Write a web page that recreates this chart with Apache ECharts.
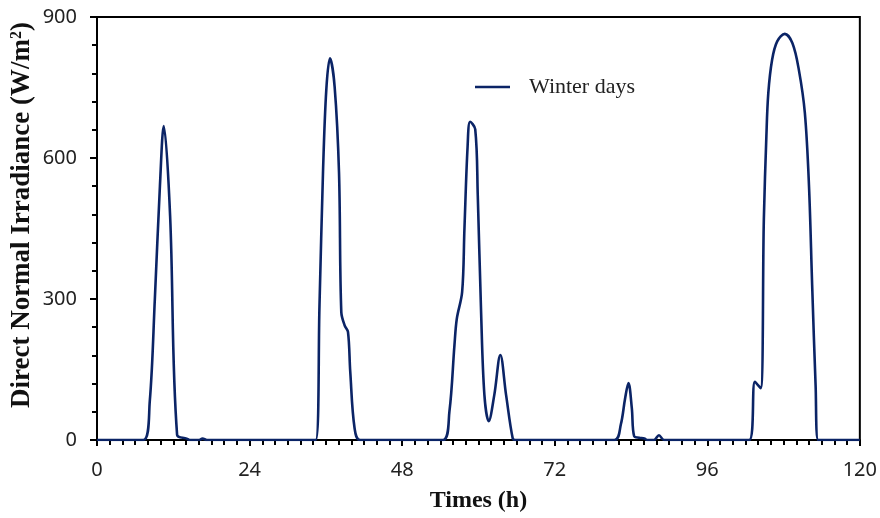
<!DOCTYPE html>
<html>
<head>
<meta charset="utf-8">
<script src="https://cdn.jsdelivr.net/npm/echarts@6/dist/echarts.min.js"></script>
<style>
  html, body { margin: 0; padding: 0; background: #fff; }
  #chart { width: 880px; height: 518px; }
</style>
</head>
<body>
<div id="chart"></div>
<script>
// hour, direct normal irradiance (W/m2)
const hours = [
  0, 7.3, 8.3, 9.1, 9.9, 10.5, 11.5, 12.6, 14.1, 14.6, 16.0, 16.6, 17.3,
  34.4, 35.0, 35.55, 36.07, 36.65, 37.38, 38.07, 38.43, 38.95, 39.48, 39.84, 40.52, 41.4,
  54.4, 55.44, 56.23, 56.6, 57.44, 57.8, 58.3, 58.7, 59.5, 59.9, 60.42, 60.94, 61.62, 62.5, 63.45, 64.35, 65.4, 65.8,
  81.4, 82.4, 83.08, 83.6, 84.13, 84.5, 85.3, 86.1, 86.6, 87.6, 88.4, 89.2,
  102.6, 103.5, 104.4, 104.9, 105.3, 105.6, 106.2, 107.0, 108.2, 109.4, 110.4, 111.35, 112.0, 112.5, 113.04, 113.45,
  120
]
const winterDni = [
  0, 0, 82, 300, 541, 668, 477, 11, 3, 0, 0, 3, 0,
  0, 287, 569, 745, 812, 752, 569, 272, 244, 230, 145, 25, 0,
  0, 61, 202, 258, 315, 449, 625, 677, 661, 519, 272, 96, 40, 96, 181, 96, 3, 0,
  0, 33, 89, 121, 68, 8, 5, 3, 0, 0, 10, 0,
  0, 124, 110, 470, 647, 738, 809, 848, 864, 844, 788, 696, 541, 329, 117, 0,
  0
]
const xTicks = [0, 24, 48, 72, 96, 120]
const yTicks = [0, 300, 600, 900]

const chart = echarts.init(document.getElementById('chart'))

const tickFont = { fontFamily: 'Noto Sans', fontSize: 20, color: '#222' }

chart.setOption({
  animation: false,
  grid: {
    left: 97, right: 19, top: 17, bottom: 76,
    show: true, borderColor: '#000', borderWidth: 2
  },
  legend: {
    left: 470, top: 71,
    icon: 'rect',
    itemWidth: 35, itemHeight: 2.5,
    textStyle: { fontFamily: 'Liberation Serif', fontSize: 22, color: '#222', padding: [0, 0, 0, 14] },
    data: ['Winter days']
  },
  xAxis: {
    type: 'value',
    min: xTicks[0], max: xTicks[xTicks.length - 1], interval: 24,
    name: 'Times (h)',
    nameLocation: 'middle', nameGap: 49,
    nameTextStyle: { fontFamily: 'Liberation Serif', fontWeight: 'bold', fontSize: 24, color: '#111' },
    axisLine: { lineStyle: { color: '#000', width: 2 } },
    axisTick: { show: true, length: 6, lineStyle: { color: '#000', width: 2 } },
    minorTick: { show: true, splitNumber: 12, length: 5, lineStyle: { color: '#000', width: 2 } },
    axisLabel: { ...tickFont, margin: 20 },
    splitLine: { show: false }
  },
  yAxis: {
    type: 'value',
    min: yTicks[0], max: yTicks[yTicks.length - 1], interval: 300,
    axisLine: { show: true, lineStyle: { color: '#000', width: 2 } },
    axisTick: { show: true, length: 7, lineStyle: { color: '#000', width: 2 } },
    minorTick: { show: true, splitNumber: 5, length: 5, lineStyle: { color: '#000', width: 2 } },
    axisLabel: { ...tickFont, margin: 20 },
    splitLine: { show: false }
  },
  graphic: [{
    type: 'text',
    x: 22, y: 215,
    rotation: Math.PI / 2,
    style: {
      text: 'Direct Normal Irradiance (W/m{sup|2})',
      fontFamily: 'Liberation Serif', fontWeight: 'bold', fontSize: 27, fill: '#111',
      align: 'center', verticalAlign: 'middle',
      rich: {
        sup: { fontFamily: 'Liberation Serif', fontWeight: 'bold', fontSize: 16, verticalAlign: 'top', padding: [0, 0, 10, 0] }
      }
    }
  }],
  series: [{
    name: 'Winter days',
    type: 'line',
    data: hours.map((h, i) => [h, winterDni[i]]),
    symbol: 'none',
    smooth: 0.35,
    lineStyle: { color: '#0b2466', width: 2.6 },
    itemStyle: { color: '#0b2466' }
  }]
})
</script>
</body>
</html>
